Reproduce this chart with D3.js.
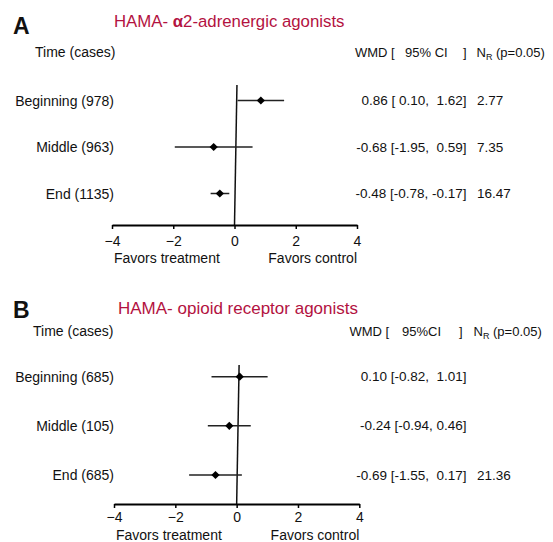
<!DOCTYPE html>
<html>
<head>
<meta charset="utf-8">
<script src="https://cdn.jsdelivr.net/npm/d3@7"></script>
<style>
  body { margin: 0; background: #fff; }
  text { font-family: "Liberation Sans", Arial, Helvetica, sans-serif; fill: #111; }
</style>
</head>
<body>
<div id="chart"></div>
<script>
// Data
const xTicks = [-4, -2, 0, 2, 4];

// Panel A: alpha2-adrenergic agonists
const rowsA = ["Beginning (978)", "Middle (963)", "End (1135)"];
const wmdA = [0.86, -0.68, -0.48];
const lowA = [0.10, -1.95, -0.78];
const highA = [1.62, 0.59, -0.17];
const ciTextA = ["0.86 [ 0.10,  1.62]", "-0.68 [-1.95,  0.59]", "-0.48 [-0.78, -0.17]"];
const nrA = ["2.77", "7.35", "16.47"];

// Panel B: opioid receptor agonists
const rowsB = ["Beginning (685)", "Middle (105)", "End (685)"];
const wmdB = [0.10, -0.24, -0.69];
const lowB = [-0.82, -0.94, -1.55];
const highB = [1.01, 0.46, 0.17];
const ciTextB = ["0.10 [-0.82,  1.01]", "-0.24 [-0.94, 0.46]", "-0.69 [-1.55,  0.17]"];
const nrB = ["", "", "21.36"];

const W = 553, H = 542;
const red = "#b3123f";

const svg = d3.select("#chart")
  .append("svg")
  .attr("width", W)
  .attr("height", H);

function drawPanel(p) {
  const g = svg.append("g");

  const x = d3.scaleLinear().domain([-4, 4]).range([p.x0, p.x1]);
  const y = d3.scalePoint().domain(p.rows).range([p.rowTop, p.rowBottom]);

  // Panel letter and title
  g.append("text")
    .attr("x", 13).attr("y", p.letterY)
    .attr("font-size", "23px").attr("font-weight", "bold")
    .text(p.letter);

  const title = g.append("text")
    .attr("x", p.titleX).attr("y", p.titleY)
    .attr("font-size", p.titleSize)
    .style("fill", red);
  p.title.forEach(t => {
    title.append("tspan")
      .attr("font-weight", t.bold ? "bold" : null)
      .style("fill", red)
      .text(t.s);
  });

  // Column headers
  g.append("text")
    .attr("x", p.timeX).attr("y", p.headY)
    .attr("font-size", "14px")
    .text("Time (cases)");

  p.head.forEach(h => {
    g.append("text")
      .attr("x", h.x).attr("y", p.headY)
      .attr("font-size", "13px")
      .text(h.s);
  });
  const nr = g.append("text")
    .attr("x", p.nrHeadX).attr("y", p.headY)
    .attr("font-size", "13px");
  nr.append("tspan").text("N");
  nr.append("tspan").attr("font-size", "9px").attr("dy", 3).text("R");
  nr.append("tspan").attr("dy", -3).text(" (p=0.05)");

  // Row labels
  g.selectAll(".row-label")
    .data(p.rows)
    .enter()
    .append("text")
    .attr("class", "row-label")
    .attr("x", 114)
    .attr("y", d => y(d) + 5)
    .attr("text-anchor", "end")
    .attr("font-size", "14px")
    .text(d => d);

  // Vertical line of no effect
  g.append("line")
    .attr("x1", x(0.08)).attr("y1", p.lineTop)
    .attr("x2", x(0)).attr("y2", p.axisY)
    .attr("stroke", "#111")
    .attr("stroke-width", 1.5);

  // Confidence intervals
  g.selectAll(".ci")
    .data(p.rows)
    .enter()
    .append("line")
    .attr("class", "ci")
    .attr("x1", (d, i) => x(p.low[i]))
    .attr("x2", (d, i) => x(p.high[i]))
    .attr("y1", d => y(d))
    .attr("y2", d => y(d))
    .attr("stroke", "#222")
    .attr("stroke-width", 1.5);

  // Point estimates
  g.selectAll(".pt")
    .data(p.rows)
    .enter()
    .append("path")
    .attr("class", "pt")
    .attr("d", d3.symbol().type(d3.symbolSquare).size(34))
    .attr("transform", (d, i) => "translate(" + x(p.wmd[i]) + "," + y(d) + ") rotate(45)")
    .attr("fill", "#000");

  // X axis
  const axis = g.append("g")
    .attr("transform", "translate(0," + p.axisY + ")")
    .call(d3.axisBottom(x).tickValues(xTicks).tickSize(4).tickSizeOuter(0).tickFormat(d3.format("d")));
  axis.select(".domain").attr("stroke", "#000").attr("stroke-width", 2);
  axis.selectAll(".tick line").attr("stroke", "#000").attr("stroke-width", 1.5);
  axis.selectAll(".tick text")
    .attr("y", p.tickDy)
    .attr("dy", 0)
    .attr("font-size", "14px")
    .attr("font-family", "Liberation Sans, Arial, sans-serif")
    .style("fill", "#111");

  g.append("text")
    .attr("x", x(-4) + 2).attr("y", p.axisY + p.favorsDy)
    .attr("font-size", "14px")
    .text("Favors treatment");
  g.append("text")
    .attr("x", x(4)).attr("y", p.axisY + p.favorsDy)
    .attr("text-anchor", "end")
    .attr("font-size", "14px")
    .text("Favors control");

  // WMD [95% CI] and N_R columns
  g.selectAll(".ci-text")
    .data(p.rows)
    .enter()
    .append("text")
    .attr("class", "ci-text")
    .attr("x", 466.5)
    .attr("y", d => y(d) + 4.5)
    .attr("text-anchor", "end")
    .attr("font-size", "13.5px")
    .style("white-space", "pre")
    .text((d, i) => p.ciText[i]);

  g.selectAll(".nr-text")
    .data(p.rows)
    .enter()
    .append("text")
    .attr("class", "nr-text")
    .attr("x", 477)
    .attr("y", d => y(d) + 4.5)
    .attr("font-size", "13.5px")
    .text((d, i) => p.nr[i]);
}

drawPanel({
  letter: "A", letterY: 34,
  title: [{ s: "HAMA- " }, { s: "α", bold: true }, { s: "2-adrenergic agonists" }],
  titleX: 114, titleY: 27, titleSize: "16.8px",
  timeX: 35, headY: 57,
  head: [{ x: 355, s: "WMD [" }, { x: 405, s: "95% CI" }, { x: 463, s: "]" }],
  nrHeadX: 476.5,
  rows: rowsA, wmd: wmdA, low: lowA, high: highA, ciText: ciTextA, nr: nrA,
  rowTop: 100.5, rowBottom: 193.5,
  x0: 112, x1: 357, axisY: 225, lineTop: 85,
  tickDy: 21, favorsDy: 38
});

drawPanel({
  letter: "B", letterY: 318,
  title: [{ s: "HAMA- opioid receptor agonists" }],
  titleX: 118, titleY: 314, titleSize: "17px",
  timeX: 33, headY: 336,
  head: [{ x: 349.5, s: "WMD [" }, { x: 402, s: "95%CI" }, { x: 459, s: "]" }],
  nrHeadX: 473.5,
  rows: rowsB, wmd: wmdB, low: lowB, high: highB, ciText: ciTextB, nr: nrB,
  rowTop: 376.7, rowBottom: 475,
  x0: 114, x1: 359.3, axisY: 504, lineTop: 365,
  tickDy: 18, favorsDy: 36
});
</script>
</body>
</html>
